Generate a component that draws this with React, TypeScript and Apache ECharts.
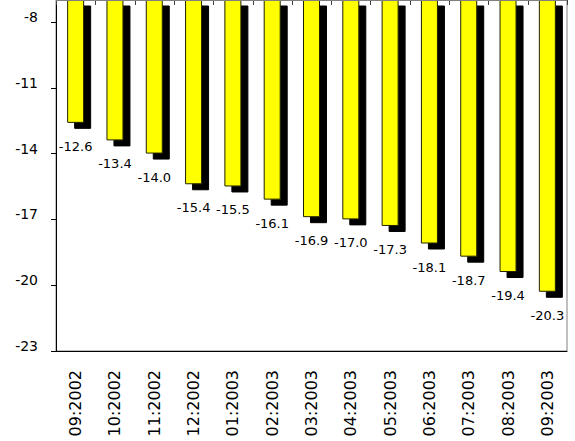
import React, { useEffect, useRef } from "react";
import * as echarts from "echarts";

const categories = [
  "09:2002", "10:2002", "11:2002", "12:2002", "01:2003", "02:2003", "03:2003",
  "04:2003", "05:2003", "06:2003", "07:2003", "08:2003", "09:2003",
];
const values = [-12.6, -13.4, -14.0, -15.4, -15.5, -16.1, -16.9, -17.0, -17.3, -18.1, -18.7, -19.4, -20.3];
const yTickValues = [-23, -20, -17, -14, -11, -8];
const yMin = -23;
const yMax = -7;

const FONT = "DejaVu Sans";

export default function App() {
  const ref = useRef<HTMLDivElement>(null);
  useEffect(() => {
    if (!ref.current) return;
    const chart = echarts.init(ref.current, undefined, { renderer: "svg" });
    chart.setOption({
      animation: false,
      backgroundColor: "#ffffff",
      grid: {
        left: 56,
        right: 8,
        top: 0,
        bottom: 90,
        show: true,
        borderColor: "#808080",
        borderWidth: 1,
        containLabel: false,
      },
      xAxis: {
        type: "category",
        data: categories,
        position: "bottom",
        axisLine: { show: true, onZero: false, lineStyle: { color: "#000", width: 1 } },
        axisTick: { show: false },
        axisLabel: {
          rotate: 90,
          margin: 19,
          fontSize: 16,
          fontFamily: FONT,
          color: "#000",
          interval: 0,
        },
        splitLine: { show: false },
      },
      yAxis: {
        type: "value",
        min: yMin,
        max: yMax,
        axisLine: { show: true, lineStyle: { color: "#000", width: 1 } },
        axisTick: { show: true, length: 5, customValues: yTickValues, lineStyle: { color: "#000" } },
        axisLabel: {
          customValues: yTickValues,
          margin: 18,
          fontSize: 14,
          fontFamily: FONT,
          color: "#000",
          verticalAlign: "bottom",
          lineHeight: 10,
        },
        splitLine: { show: false },
      },
      series: [
        {
          type: "bar",
          data: values,
          barWidth: 17,
          clip: true,
          itemStyle: {
            color: "#ffff00",
            borderColor: "#222200",
            borderWidth: 1,
            shadowColor: "#000000",
            shadowBlur: 0,
            shadowOffsetX: 7,
            shadowOffsetY: 6,
          },
          label: {
            show: true,
            position: "bottom",
            distance: 17,
            fontSize: 13,
            fontFamily: FONT,
            color: "#000",
            formatter: (p: any) => Number(p.value).toFixed(1),
          },
        },
      ],
    });

    // Top category tick marks, positioned from the chart's own scales
    const c0 = chart.convertToPixel({ xAxisIndex: 0 }, categories[0]) as number;
    const c1 = chart.convertToPixel({ xAxisIndex: 0 }, categories[1]) as number;
    const band = c1 - c0;
    const yTop = chart.convertToPixel({ yAxisIndex: 0 }, yMax) as number;
    const ticks: any[] = [];
    for (let k = 0; k <= categories.length; k++) {
      const x = Math.round(c0 - band / 2 + k * band) + 0.5;
      ticks.push({
        type: "line",
        z: 100,
        shape: { x1: x, y1: yTop, x2: x, y2: yTop + 5 },
        style: { stroke: "#404040", lineWidth: 1 },
      });
    }
    ticks.push({
      type: "line",
      z: 100,
      shape: { x1: c0 - band / 2, y1: yTop + 0.5, x2: c0 - band / 2 + categories.length * band, y2: yTop + 0.5 },
      style: { stroke: "#808080", lineWidth: 1 },
    });
    chart.setOption({ graphic: ticks });

    return () => chart.dispose();
  }, []);
  return (
    <div
      ref={ref}
      style={{ position: "fixed", left: 0, top: 0, width: 575, height: 441, background: "#fff" }}
    />
  );
}
